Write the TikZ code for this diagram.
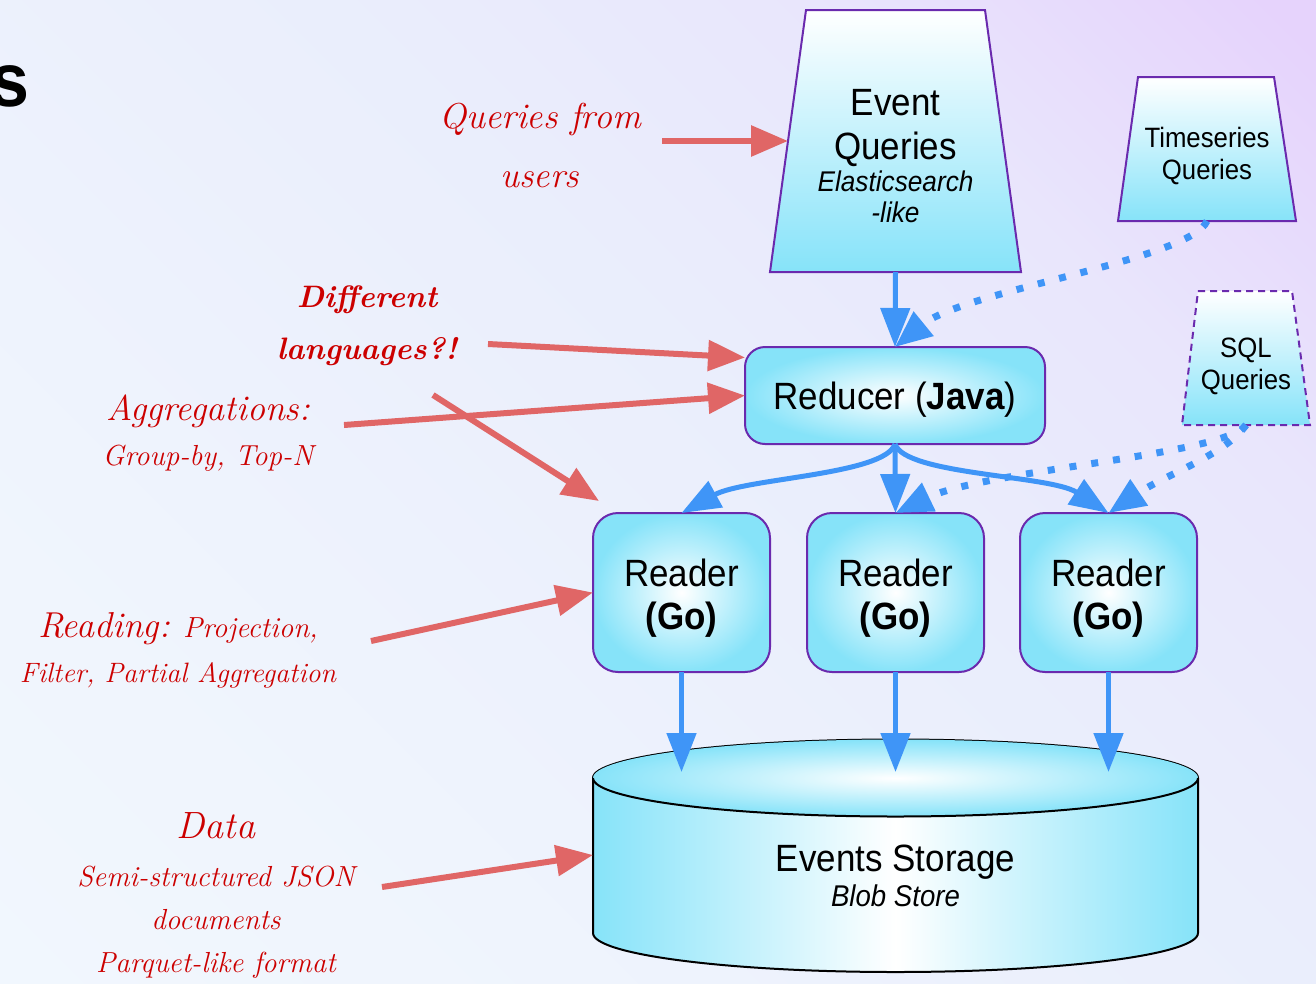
\documentclass[tikz,border=0pt]{standalone}
\usepackage{fontspec}
\setmainfont[FakeStretch=0.92]{Liberation Sans}
\newfontfamily\hand{Latin Modern Roman}
\usetikzlibrary{arrows.meta}

\definecolor{bgtop}{HTML}{E6D3FC}
\definecolor{bgmid}{HTML}{EAEEFC}
\definecolor{bglow}{HTML}{F3F9FE}
\definecolor{cyanfill}{HTML}{86E3F9}
\definecolor{rim}{HTML}{6A2AAE}
\definecolor{flowblue}{HTML}{3F95F7}
\definecolor{noteline}{HTML}{E06666}
\definecolor{noteink}{HTML}{CC0000}

% slide background: pale blue in the lower left, lavender in the upper right corner
\pgfdeclareverticalshading{slidebg}{100bp}{
  color(0bp)=(bglow); color(30bp)=(bglow!60!bgmid); color(55bp)=(bgmid);
  color(70bp)=(bgmid!70!bgtop); color(84bp)=(bgtop); color(100bp)=(bgtop)}

\tikzset{
  query/.style={draw=rim, line width=2pt, top color=white, bottom color=cyanfill},
  label text/.style={align=center, inner sep=0pt},
  proc/.style={rectangle, draw=rim, line width=2pt, inner color=white,
    outer color=cyanfill, align=center, outer sep=0pt},
  reader/.style={proc, rounded corners=25pt, minimum width=177pt,
    minimum height=159pt, font=\fontsize{38}{43}\selectfont},
  flow/.style={draw=flowblue, line width=5pt, -{Triangle[length=39pt,width=29pt]}},
  dotflow/.style={draw=flowblue, line width=7pt, dash pattern=on 7pt off 15pt,
    -{Triangle[length=37pt,width=30pt]}},
  note/.style={draw=noteline, line width=6pt, -{Triangle[length=37pt,width=30pt]}},
  hand/.style={text=noteink, align=center, inner sep=0pt},
}

\begin{document}
\begin{tikzpicture}[x=1pt,y=-1pt]
\useasboundingbox (0,0) rectangle (1316,983);
\clip (0,0) rectangle (1316,983);
\shade[shading=slidebg, shading angle=-45] (0,0) rectangle (1316,983);

% tail of the slide title
\node[anchor=base east, inner sep=0pt, font=\fontsize{76}{76}\selectfont\bfseries] (title) at (30,106) {s};

% query front-ends (trapezoids)
\path[query] (806,10) -- (985,10) -- (1021,272) -- (770,272) -- cycle;
\node[label text, font=\fontsize{38}{44}\selectfont] (eq) at (895.5,156)
  {Event\\Queries\\[-12pt]{\fontsize{28.5}{31}\selectfont\itshape Elasticsearch}\\[-13pt]{\fontsize{28.5}{31}\selectfont\itshape -like}};
\coordinate (eqS) at (895.5,272);
\coordinate (eqW) at (788,141);

\path[query] (1138,77) -- (1274,77) -- (1296,221) -- (1118,221) -- cycle;
\node[label text, font=\fontsize{28}{32}\selectfont] (ts) at (1207,156) {Timeseries\\Queries};
\coordinate (tsS) at (1207,221);

\path[query, dash pattern=on 7pt off 5pt] (1198,291) -- (1292,291) -- (1310,425) -- (1182,425) -- cycle;
\node[label text, font=\fontsize{28}{32}\selectfont] (sql) at (1246,366) {SQL\\Queries};
\coordinate (sqlS) at (1246,425);

% reducer and readers
\node[proc, rounded corners=20pt, minimum width=300pt, minimum height=97pt,
  font=\fontsize{38}{44}\selectfont] (reducer) at (895,395.5) {\rule{0pt}{36pt}Reducer (\textbf{Java})};

\node[reader] (r1) at (681.5,592.5) {\rule{0pt}{38pt}Reader\\\textbf{(Go)}};
\node[reader] (r2) at (895.5,592.5) {\rule{0pt}{38pt}Reader\\\textbf{(Go)}};
\node[reader] (r3) at (1108.5,592.5) {\rule{0pt}{38pt}Reader\\\textbf{(Go)}};

% storage cylinder
\path[draw=black, line width=2pt, left color=cyanfill, right color=cyanfill, middle color=white]
  (593,778) -- (593,933) arc[start angle=180, end angle=360, x radius=302.5pt, y radius=39pt]
  -- (1198,778) arc[start angle=0, end angle=180, x radius=302.5pt, y radius=38.5pt] -- cycle;
\path[inner color=white, outer color=cyanfill] (895.5,778) ellipse[x radius=302.5pt, y radius=38.5pt];
\draw[line width=2pt] (593,778) arc[start angle=180, end angle=360, x radius=302.5pt, y radius=38.5pt];
\node[label text, font=\fontsize{38}{35}\selectfont] (store) at (895.5,876)
  {Events Storage\\{\fontsize{30}{35}\selectfont\itshape Blob Store}};
\coordinate (storeW) at (593,855);
\coordinate (in1) at (681.5,772);
\coordinate (in2) at (895.5,772);
\coordinate (in3) at (1108.5,772);

% data flow
\draw[flow] (eqS) -- (reducer.north);
\draw[dotflow] (tsS) .. controls (1190,260) and (965,290) .. (reducer.north);
\draw[flow] (reducer.south) .. controls (885,475) and (745,478) .. (r1.north);
\draw[flow] (reducer.south) -- (r2.north);
\draw[flow] (reducer.south) .. controls (905,475) and (1050,475) .. (r3.north);
\draw[dotflow] (sqlS) .. controls (1225,455) and (985,470) .. (r2.north);
\draw[dotflow] (sqlS) .. controls (1225,455) and (1165,475) .. (r3.north);
\draw[flow] (r1.south) -- (in1);
\draw[flow] (r2.south) -- (in2);
\draw[flow] (r3.south) -- (in3);

% annotations
\node[hand, font=\hand\itshape\fontsize{36}{59}\selectfont] (qnote) at (540,146) {Queries from\\users};
\node[hand, font=\hand\bfseries\itshape\fontsize{31}{52}\selectfont] (dnote) at (367,326) {Different\\languages?!};
\node[hand, font=\hand\itshape\fontsize{29}{45}\selectfont] (anote) at (208,433)
  {{\fontsize{36}{45}\selectfont Aggregations:}\\Group-by, Top-N};
\node[hand, font=\hand\itshape\fontsize{28}{45}\selectfont] (rnote) at (178,650)
  {{\fontsize{36}{45}\selectfont Reading:} {\fontsize{29}{45}\selectfont Projection,}\\Filter, Partial Aggregation};
\node[hand, font=\hand\itshape\fontsize{29}{43}\selectfont] (datanote) at (216,895)
  {{\fontsize{38}{43}\selectfont Data}\\[5pt]Semi-structured JSON\\documents\\Parquet-like format};

\coordinate (qsrc) at (662,141);
\coordinate (dsrc) at (488,344);
\coordinate (dsrc2) at (433,395);
\coordinate (asrc) at (344,425);
\coordinate (rsrc) at (371,641);
\coordinate (datasrc) at (382,887);
\draw[note] (qsrc) -- (eqW);
\draw[note] (dsrc) -- ([yshift=38pt]reducer.west);
\draw[note] (dsrc2) -- ([xshift=6pt,yshift=12pt]r1.north west);
\draw[note] (asrc) -- (reducer.west);
\draw[note] (rsrc) -- (r1.west);
\draw[note] (datasrc) -- (storeW);
\end{tikzpicture}
\end{document}
